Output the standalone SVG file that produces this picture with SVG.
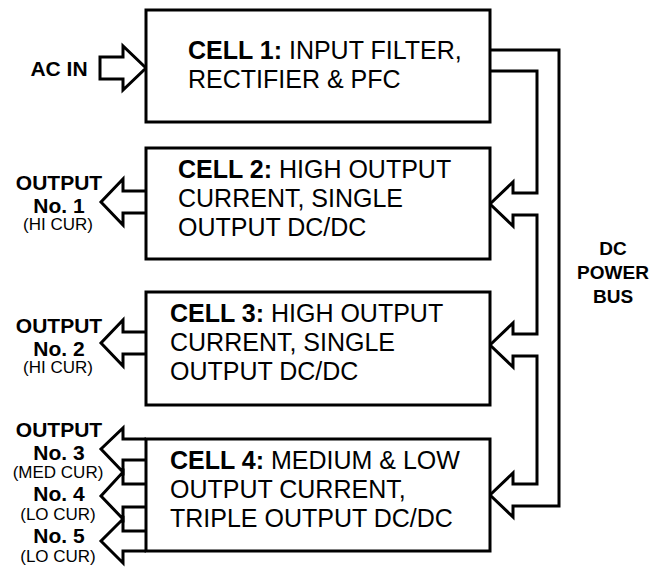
<svg xmlns="http://www.w3.org/2000/svg" width="651" height="567" viewBox="0 0 651 567">
<style>
.box{fill:#fff;stroke:#000;stroke-width:3}
.ln{fill:none;stroke:#000;stroke-width:3;stroke-linejoin:miter;stroke-miterlimit:10}
.ct{font-family:"Liberation Sans",Arial,sans-serif;font-size:25px;fill:#000}
.b{font-weight:bold}
.lb{font-family:"Liberation Sans",Arial,sans-serif;font-size:21px;font-weight:bold;fill:#000;text-anchor:middle}
.sm{font-family:"Liberation Sans",Arial,sans-serif;font-size:17px;fill:#000;text-anchor:middle}
</style>
<rect width="651" height="567" fill="#fff"/>
<g id="connectors">
<path class="ln" d="M100,57 H123 V46 L146,68 L123,90 V79 H100 Z"/>
<path class="ln" d="M490,50 H559 V506 H513 V517 L490,495 L513,473 V484 H537 V356 H513 V367 L490,345 L513,323 V334 H537 V215 H513 V226 L490,204 L513,182 V193 H537 V71 H490"/>
<path class="ln" d="M146,191 H123 V179 L101,202 L123,225 V213 H146"/>
<path class="ln" d="M146,332 H123 V320 L101,343 L123,366 V354 H146"/>
<path class="ln" d="M146,439 H123 V428 L101,449 L123,472 V460 H146"/>
<path class="ln" d="M146,484 H123 V472 L101,496 L123,519 V507 H146"/>
<path class="ln" d="M146,531 H123 V519 L101,541 L123,563 V551 H146"/>
</g>
<g id="cell1">
<rect class="box" x="146" y="10" width="344" height="112"/>
<text class="ct" x="188" y="59"><tspan class="b">CELL 1:</tspan> INPUT FILTER,</text>
<text class="ct" x="188" y="88">RECTIFIER &amp; PFC</text>
</g>
<g id="cell2">
<rect class="box" x="146" y="148" width="344" height="111"/>
<text class="ct" x="178" y="178"><tspan class="b">CELL 2:</tspan> HIGH OUTPUT</text>
<text class="ct" x="178" y="207">CURRENT, SINGLE</text>
<text class="ct" x="178" y="236">OUTPUT DC/DC</text>
</g>
<g id="cell3">
<rect class="box" x="146" y="292" width="344" height="113"/>
<text class="ct" x="170" y="322"><tspan class="b">CELL 3:</tspan> HIGH OUTPUT</text>
<text class="ct" x="170" y="351">CURRENT, SINGLE</text>
<text class="ct" x="170" y="380">OUTPUT DC/DC</text>
</g>
<g id="cell4">
<rect class="box" x="146" y="439" width="344" height="112"/>
<text class="ct" x="170" y="469"><tspan class="b">CELL 4:</tspan> MEDIUM &amp; LOW</text>
<text class="ct" x="170" y="498">OUTPUT CURRENT,</text>
<text class="ct" x="170" y="527">TRIPLE OUTPUT DC/DC</text>
</g>
<g id="acin">
<text class="lb" x="59" y="76">AC IN</text>
</g>
<g id="out1">
<text class="lb" x="59" y="190">OUTPUT</text>
<text class="lb" x="59" y="213">No. 1</text>
<text class="sm" x="58" y="230">(HI CUR)</text>
</g>
<g id="out2">
<text class="lb" x="59" y="333">OUTPUT</text>
<text class="lb" x="59" y="356">No. 2</text>
<text class="sm" x="58" y="373">(HI CUR)</text>
</g>
<g id="out345">
<text class="lb" x="59" y="437">OUTPUT</text>
<text class="lb" x="59" y="460">No. 3</text>
<text class="sm" x="58" y="478">(MED CUR)</text>
<text class="lb" x="59" y="501">No. 4</text>
<text class="sm" x="58" y="520">(LO CUR)</text>
<text class="lb" x="59" y="543">No. 5</text>
<text class="sm" x="58" y="562">(LO CUR)</text>
</g>
<g id="bus">
<text class="lb" x="613" y="255" style="font-size:19px">DC</text>
<text class="lb" x="613" y="279" style="font-size:19px">POWER</text>
<text class="lb" x="613" y="303" style="font-size:19px">BUS</text>
</g>
</svg>
